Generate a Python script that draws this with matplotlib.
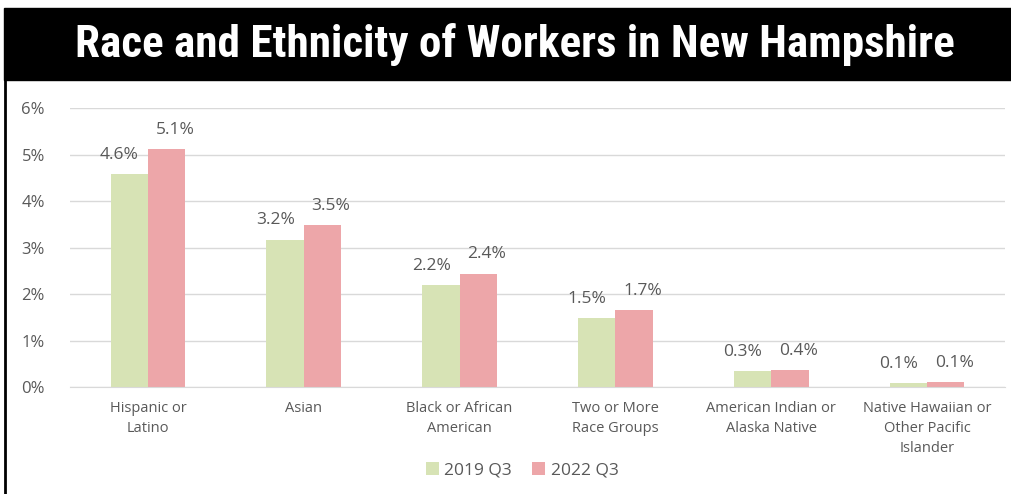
import numpy as np
import matplotlib.pyplot as plt
from matplotlib.patches import Rectangle
from matplotlib.lines import Line2D

categories = ['Hispanic or\nLatino', 'Asian', 'Black or African\nAmerican',
              'Two or More\nRace Groups', 'American Indian or\nAlaska Native',
              'Native Hawaiian or\nOther Pacific\nIslander']
q3_2019 = [4.57, 3.17, 2.19, 1.48, 0.34, 0.09]
q3_2022 = [5.12, 3.49, 2.44, 1.66, 0.37, 0.10]
series_names = ['2019 Q3', '2022 Q3']
yticks = [0, 1, 2, 3, 4, 5, 6]

green = '#d7e3b5'
pink = '#eda6a9'
grey = '#595959'

plt.rcParams['font.family'] = ['Open Sans', 'DejaVu Sans']

fig = plt.figure(figsize=(10.12, 4.94), dpi=100)

# title bar and left frame line
fig.patches.append(Rectangle((4 / 1012, 1 - 80 / 494), 1, 72 / 494,
                             transform=fig.transFigure, color='black', zorder=0))
fig.lines.append(Line2D([4.5 / 1012, 4.5 / 1012], [0, 1 - 80 / 494],
                        transform=fig.transFigure, color='black', lw=2))
fig.text(515 / 1012, 1 - 45 / 494, 'Race and Ethnicity of Workers in New Hampshire',
         ha='center', va='center', color='white', fontsize=32.5, fontweight='bold',
         fontstretch='condensed', family=['Roboto Condensed', 'Open Sans', 'DejaVu Sans'])

ax = fig.add_axes([70 / 1012, 107 / 494, 935 / 1012, 279 / 494])
x = np.arange(len(categories))
w = 0.24
b1 = ax.bar(x - w / 2, q3_2019, w, color=green, label=series_names[0], zorder=2)
b2 = ax.bar(x + w / 2, q3_2022, w, color=pink, label=series_names[1], zorder=2)

for bars, vals, dx in ((b1, q3_2019, -7), (b2, q3_2022, 6)):
    for r, v in zip(bars, vals):
        ax.annotate(f'{v:.1f}%', (r.get_x() + r.get_width() / 2, v),
                    xytext=(dx, 8), textcoords='offset points',
                    ha='center', va='bottom', fontsize=12.5, color=grey)

ax.set_ylim(0, 6)
ax.set_xlim(-0.5, len(categories) - 0.5)
ax.set_yticks(yticks)
ax.set_yticklabels([f'{t}%' for t in yticks], fontsize=12, color=grey)
ax.set_xticks(x)
ax.set_xticklabels(categories, fontsize=10.5, color=grey, linespacing=1.45)
ax.tick_params(length=0, pad=10)
ax.tick_params(axis='y', pad=18)
ax.grid(axis='y', color='#d9d9d9', lw=1, zorder=0)
ax.set_axisbelow(True)
for s in ['top', 'right', 'left']:
    ax.spines[s].set_visible(False)
ax.spines['bottom'].set_color('#d9d9d9')

fig.legend(loc='center', bbox_to_anchor=(522 / 1012, 1 - 470 / 494), ncol=2,
           frameon=False, fontsize=12.5, labelcolor=grey, handlelength=0.75,
           handleheight=0.75, handletextpad=0.3, columnspacing=1.2)

fig.savefig('out.png', dpi=100, facecolor='white')
